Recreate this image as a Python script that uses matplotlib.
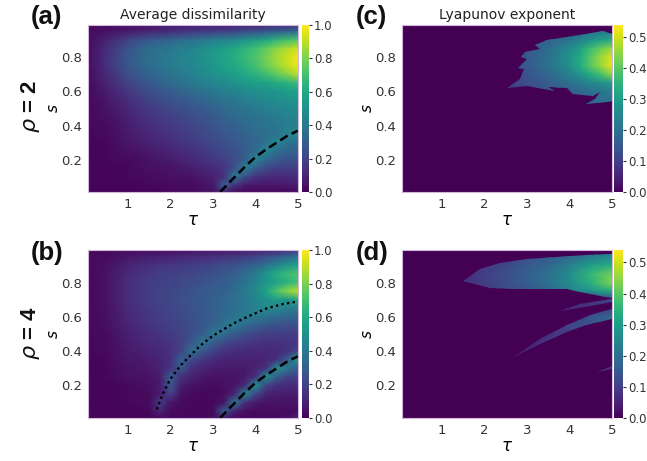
import numpy as np
import matplotlib
matplotlib.use('Agg')
import matplotlib.pyplot as plt
from matplotlib.path import Path

W, H = 647, 461

# rows of every grid go from the top of the panel (large s) to the bottom
s_left = [.99, .95, .90, .85, .80, .75, .70, .65, .60, .55, .50, .45, .40, .35, .30, .25, .20, .15, .10, .05, .01]

tau_a = [.05, .5, 1, 1.5, 2, 2.5, 3, 3.25, 3.5, 3.75, 4, 4.25, 4.5, 4.75, 5]
dissim_a = [
    [.03, .03, .04, .05, .06, .07, .08, .08, .09, .09, .10, .11, .12, .13, .15],
    [.03, .05, .08, .11, .14, .17, .19, .20, .22, .24, .26, .28, .31, .33, .36],
    [.03, .10, .20, .28, .33, .38, .43, .45, .48, .52, .56, .60, .66, .70, .74],
    [.03, .13, .26, .35, .40, .45, .52, .56, .60, .65, .70, .76, .83, .88, .93],
    [.03, .14, .28, .36, .42, .47, .54, .58, .62, .67, .72, .79, .86, .92, .98],
    [.03, .14, .27, .35, .41, .46, .53, .57, .60, .65, .70, .77, .84, .91, .97],
    [.03, .12, .24, .32, .38, .44, .50, .53, .56, .60, .64, .69, .75, .82, .89],
    [.03, .10, .20, .28, .34, .40, .46, .48, .51, .54, .56, .58, .61, .64, .68],
    [.02, .08, .16, .24, .29, .35, .40, .43, .45, .47, .49, .51, .53, .55, .57],
    [.02, .06, .13, .20, .25, .30, .35, .38, .40, .43, .45, .47, .49, .50, .52],
    [.02, .05, .11, .17, .22, .26, .31, .34, .37, .39, .41, .43, .45, .47, .48],
    [.02, .04, .09, .15, .19, .23, .28, .31, .34, .36, .38, .40, .42, .44, .45],
    [.02, .03, .08, .13, .17, .21, .26, .29, .31, .34, .36, .38, .40, .42, .44],
    [.02, .03, .07, .11, .15, .19, .24, .27, .29, .32, .34, .36, .39, .44, .48],
    [.01, .02, .06, .09, .13, .17, .22, .24, .27, .30, .33, .37, .46, .38, .36],
    [.01, .02, .04, .07, .10, .14, .19, .22, .25, .29, .34, .46, .36, .32, .31],
    [.01, .02, .03, .05, .08, .11, .16, .19, .23, .30, .46, .34, .28, .26, .25],
    [.01, .01, .02, .04, .05, .08, .12, .16, .24, .44, .30, .22, .19, .18, .18],
    [.01, .01, .02, .03, .04, .05, .09, .13, .42, .24, .15, .13, .12, .12, .13],
    [.01, .01, .01, .02, .03, .03, .06, .30, .16, .08, .06, .06, .06, .07, .08],
    [.01, .01, .01, .01, .02, .03, .05, .10, .03, .02, .02, .02, .02, .02, .03],
]

tau_b = [.05, .5, 1, 1.5, 1.75, 2, 2.25, 2.5, 2.75, 3, 3.25, 3.5, 3.75, 4, 4.25, 4.5, 4.75, 5]
dissim_b = [
    [.03, .03, .03, .03, .03, .04, .04, .05, .05, .06, .06, .07, .08, .09, .10, .12, .15, .18],
    [.03, .03, .06, .08, .09, .10, .11, .12, .13, .14, .15, .16, .18, .20, .24, .28, .33, .38],
    [.03, .04, .10, .14, .15, .16, .17, .18, .19, .21, .23, .25, .28, .32, .38, .45, .52, .58],
    [.02, .05, .12, .16, .18, .19, .20, .21, .23, .25, .27, .30, .35, .42, .52, .62, .68, .72],
    [.02, .05, .13, .18, .19, .20, .22, .23, .25, .27, .29, .33, .38, .45, .52, .58, .64, .70],
    [.02, .05, .13, .18, .20, .21, .23, .25, .27, .29, .31, .35, .40, .47, .58, .72, .82, .90],
    [.02, .05, .13, .18, .20, .22, .24, .26, .28, .30, .33, .36, .40, .45, .50, .55, .52, .60],
    [.02, .04, .12, .17, .19, .21, .23, .25, .27, .30, .33, .36, .40, .44, .48, .45, .42, .42],
    [.02, .04, .11, .16, .18, .20, .22, .24, .27, .30, .34, .38, .42, .40, .36, .34, .33, .32],
    [.02, .04, .10, .15, .17, .19, .21, .24, .27, .32, .38, .42, .34, .30, .27, .25, .24, .24],
    [.02, .03, .09, .13, .15, .17, .20, .24, .30, .40, .36, .28, .24, .21, .19, .18, .18, .18],
    [.02, .03, .08, .12, .13, .15, .19, .27, .40, .30, .23, .19, .17, .15, .14, .14, .15, .16],
    [.02, .03, .07, .10, .12, .14, .20, .38, .28, .20, .15, .13, .12, .11, .11, .12, .14, .22],
    [.01, .02, .06, .08, .10, .14, .32, .22, .16, .12, .10, .09, .09, .09, .10, .14, .30, .55],
    [.01, .02, .05, .07, .09, .16, .28, .14, .10, .08, .07, .07, .07, .09, .14, .50, .40, .30],
    [.01, .02, .04, .05, .08, .30, .14, .09, .06, .05, .05, .05, .07, .14, .50, .30, .20, .20],
    [.01, .01, .03, .04, .07, .28, .08, .05, .04, .03, .04, .05, .12, .50, .20, .14, .12, .12],
    [.01, .01, .02, .03, .08, .20, .05, .03, .02, .02, .03, .10, .48, .22, .10, .08, .08, .08],
    [.01, .01, .02, .03, .18, .06, .03, .02, .02, .02, .05, .42, .14, .07, .05, .05, .05, .05],
    [.01, .01, .01, .02, .10, .03, .02, .02, .02, .03, .30, .10, .04, .03, .03, .03, .03, .03],
    [.01, .01, .01, .01, .03, .02, .02, .02, .02, .03, .08, .02, .02, .02, .02, .02, .04, .10],
]

tau_c = [2.5, 3, 3.5, 4, 4.25, 4.5, 4.75, 5]
s_c = [1.0, .95, .90, .85, .80, .75, .70, .65, .60, .55, .50]
lyap_c = [
    [.12, .13, .14, .16, .17, .19, .20, .22],
    [.12, .13, .15, .17, .18, .20, .21, .23],
    [.12, .14, .17, .21, .24, .28, .31, .33],
    [.12, .15, .19, .26, .31, .37, .42, .46],
    [.12, .15, .20, .28, .33, .40, .46, .51],
    [.12, .15, .20, .27, .33, .40, .46, .52],
    [.12, .14, .18, .24, .28, .33, .38, .45],
    [.10, .13, .16, .20, .22, .25, .27, .30],
    [.08, .11, .14, .17, .18, .20, .21, .23],
    [.08, .10, .12, .15, .16, .18, .20, .21],
    [.08, .10, .12, .15, .16, .18, .20, .21],
]
# outline of the chaotic region in (c)
edge_c_tau = [2.53, 2.84, 2.93, 2.78, 3.0, 2.85, 2.96, 3.31, 3.2, 3.47, 3.94, 4.4, 4.8, 5, 5,
              4.88, 4.4, 4.6, 4.72, 4.56, 4.09, 3.94, 3.5, 3.65, 3.0]
edge_c_s = [.618, .673, .73, .74, .79, .80, .83, .85, .87, .90, .917, .937, .952, .937, .546,
            .54, .527, .556, .595, .575, .585, .618, .625, .605, .63]

tau_d = [1.5, 2, 2.5, 3, 3.5, 4, 4.5, 5]
s_d = [1.0, .95, .90, .85, .80, .75, .70, .65, .60, .55, .45, .35, .25]
lyap_d = [
    [.07, .08, .10, .12, .14, .17, .20, .24],
    [.07, .08, .10, .13, .15, .18, .22, .26],
    [.07, .09, .12, .15, .18, .23, .30, .34],
    [.07, .10, .13, .16, .20, .26, .36, .42],
    [.07, .10, .13, .16, .20, .26, .34, .44],
    [.07, .09, .12, .14, .18, .23, .28, .33],
    [.05, .05, .05, .05, .06, .07, .09, .12],
    [.03, .03, .03, .03, .05, .06, .08, .10],
    [.03, .03, .03, .04, .07, .10, .14, .18],
    [.03, .03, .03, .05, .08, .11, .14, .17],
    [.03, .03, .04, .06, .08, .10, .12, .14],
    [.03, .03, .03, .04, .05, .06, .07, .08],
    [.03, .03, .03, .03, .04, .05, .06, .07],
]
# main region and the thin filaments in (d)
blob_d_tau = [1.5, 1.9, 2.37, 3, 3.7, 4.4, 5, 5, 4.72, 4.25, 3.94, 3.31, 2.68, 2.13]
blob_d_s = [.81, .88, .917, .94, .952, .96, .965, .712, .722, .745, .76, .76, .765, .77]
fil1_tau = [2.64, 3.31, 3.94, 4.56, 5, 5, 4.4, 3.94, 3.3]
fil1_s = [.36, .47, .55, .615, .645, .585, .555, .51, .44]
fil2_tau = [3.78, 4.25, 5, 5, 4.33]
fil2_s = [.635, .673, .705, .687, .659]
fil3_tau = [4.64, 5, 5]
fil3_s = [.28, .315, .295]

# the two bifurcation curves
dash_tau = [3.17, 3.4, 3.6, 3.8, 4, 4.25, 4.5, 4.75, 5]
dash_s = [.01, .07, .12, .17, .215, .26, .30, .34, .37]
dot_tau = [1.68, 1.8, 1.99, 2.25, 2.69, 3.0, 3.47, 3.85, 4.27, 4.65, 5]
dot_s = [.06, .14, .235, .32, .43, .49, .56, .605, .65, .675, .69]


def box(x0, y0, x1, y1):
    return [x0 / W, 1 - y1 / H, (x1 - x0) / W, (y1 - y0) / H]


def make_panel(fig, rect, cbar_rect, tau, s, z, vmax, cticks):
    ax = fig.add_axes(box(*rect))
    ax.set_facecolor(plt.cm.viridis(0.0))
    mesh = ax.pcolormesh(tau, s, np.array(z), shading='gouraud', cmap='viridis', vmin=0, vmax=vmax)
    ax.set_xlim(0.06, 5)
    ax.set_ylim(0.01, 0.99)
    ax.set_xticks([1, 2, 3, 4, 5])
    ax.set_yticks([.2, .4, .6, .8])
    ax.set_xticklabels(['1', '2', '3', '4', '5'])
    ax.set_yticklabels(['0.2', '0.4', '0.6', '0.8'])
    ax.tick_params(length=0, labelsize=9.5, pad=4, colors='#333333')
    ax.set_xlabel(r'$\tau$', fontsize=12, labelpad=0)
    ax.set_ylabel(r'$s$', fontsize=11, labelpad=0)
    for sp in ax.spines.values():
        sp.set_color('#d3b6dc')
        sp.set_linewidth(0.8)
    cax = fig.add_axes(box(*cbar_rect))
    cb = fig.colorbar(mesh, cax=cax, ticks=cticks)
    cb.ax.tick_params(length=2, labelsize=8.5, pad=1.5, colors='#333333')
    cb.ax.set_yticklabels(['%.1f' % t for t in cticks])
    cb.outline.set_visible(False)
    return ax, mesh


fig = plt.figure(figsize=(W / 100, H / 100), dpi=100)

left_ticks = [0, .2, .4, .6, .8, 1.0]
right_ticks = [0, .1, .2, .3, .4, .5]

ax_a, _ = make_panel(fig, (88, 25, 298, 192), (302, 25, 309, 192), tau_a, s_left, dissim_a, 1.0, left_ticks)
ax_a.plot(dash_tau, dash_s, color='black', lw=1.8, ls=(0, (3.5, 1.8)))
ax_a.set_title('Average dissimilarity', fontsize=10, pad=4, color='#222222')

ax_b, _ = make_panel(fig, (88, 250, 298, 418), (302, 250, 309, 418), tau_b, s_left, dissim_b, 1.0, left_ticks)
ax_b.plot(dash_tau, dash_s, color='black', lw=1.8, ls=(0, (3.5, 1.8)))
ax_b.plot(dot_tau, dot_s, color='black', lw=1.7, ls=(0, (1, 1.4)))

ax_c, mesh_c = make_panel(fig, (402, 25, 612, 192), (614, 25, 623, 192), tau_c, s_c, lyap_c, 0.54, right_ticks)
ax_c.set_title('Lyapunov exponent', fontsize=10, pad=4, color='#222222')
mesh_c.set_clip_path(Path(np.column_stack([edge_c_tau, edge_c_s])), transform=ax_c.transData)

ax_d, mesh_d = make_panel(fig, (402, 250, 612, 418), (614, 250, 623, 418), tau_d, s_d, lyap_d, 0.54, right_ticks)
regions = [(blob_d_tau, blob_d_s), (fil1_tau, fil1_s), (fil2_tau, fil2_s), (fil3_tau, fil3_s)]
clip_d = Path.make_compound_path(*[Path(np.column_stack([np.r_[a, a[0]], np.r_[b, b[0]]])) for a, b in regions])
mesh_d.set_clip_path(clip_d, transform=ax_d.transData)

# panel letters and the rho labels sit outside the axes
for label, x, y in [('(a)', 31, 17), ('(b)', 31, 253), ('(c)', 356, 17), ('(d)', 356, 253)]:
    fig.text(x / W, 1 - y / H, label, fontsize=18.5, fontweight='bold', family='Liberation Sans',
             ha='left', va='center', color='#111111')
for label, y in [(r'$\rho$ = 2', 107), (r'$\rho$ = 4', 333)]:
    fig.text(31 / W, 1 - y / H, label, fontsize=16, fontweight='bold', family='Liberation Sans',
             rotation=90, ha='center', va='center', color='#111111')

plt.savefig('out.png', dpi=100)
